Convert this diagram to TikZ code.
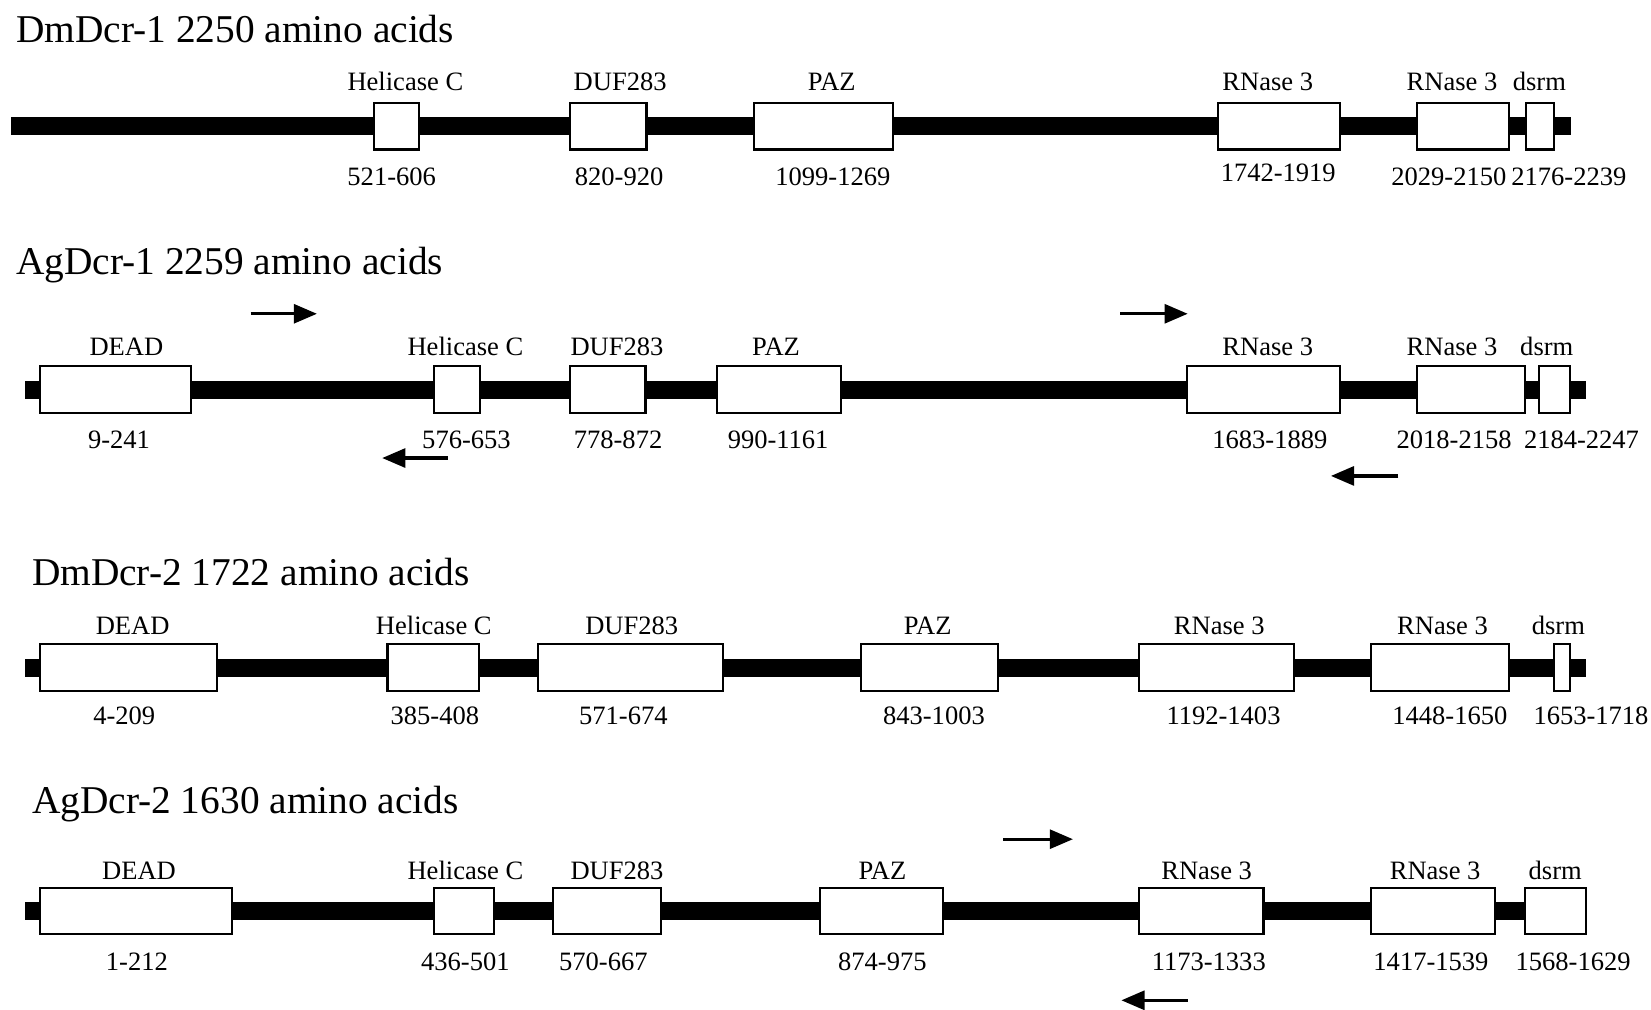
\documentclass[tikz,border=0pt]{standalone}
\usepackage{fontspec}
\setmainfont{Liberation Serif}
\usetikzlibrary{arrows.meta}
\tikzset{
  dombox/.style={draw=black, line width=1pt, fill=white, rectangle, inner sep=0pt, minimum height=22pt},
  lab/.style={inner sep=0pt, font=\fontsize{12.6}{15}\selectfont},
  ttl/.style={inner sep=0pt, anchor=base west, font=\fontsize{18.7}{22}\selectfont},
  barfill/.style={fill=black},
  arr/.style={line width=1.5pt, -{Triangle[length=11pt,width=9pt]}}
}
\newcommand\dom[7]{%
  \node[dombox, minimum width={(#3-#2)*0.5pt}] (#1) at ({(#2+#3)/2},\yc) {};
  \node[lab, anchor=base] (#1-l) at (#5,\yl) {#4};
  \node[lab, anchor=base] (#1-n) at (#7,\yn) {#6};
}
\begin{document}
\begin{tikzpicture}[x=0.5pt,y=-0.5pt]
\useasboundingbox (0,0) rectangle (1568,959);

% ---------- Row 1: DmDcr-1 ----------
\node[ttl] (t1) at (15,40) {DmDcr-1 2250 amino acids};
\def\yc{120}\def\yl{86}\def\yn{176}
\fill[barfill] (10,111.5) rectangle (1492,128.5);
\dom{a1}{355}{398}{Helicase C}{385}{521-606}{372}
\dom{a2}{541}{614}{DUF283}{589}{820-920}{588}
\dom{a3}{716}{848}{PAZ}{790}{1099-1269}{791}
\def\yn{172}
\dom{a4}{1157}{1273}{RNase 3}{1204}{1742-1919}{1214}
\def\yn{176}
\dom{a5}{1346}{1433}{RNase 3}{1379}{2029-2150}{1376}
\dom{a6}{1449}{1476}{dsrm}{1462}{2176-2239}{1490}

% ---------- Row 2: AgDcr-1 ----------
\node[ttl] (t2) at (15,261) {AgDcr-1 2259 amino acids};
\def\yc{370}\def\yl{338}\def\yn{426}
\fill[barfill] (24,361.5) rectangle (1506,378.5);
\dom{b0}{38}{181}{DEAD}{120}{9-241}{113}
\dom{b1}{412}{456}{Helicase C}{442}{576-653}{443}
\dom{b2}{541}{613}{DUF283}{586}{778-872}{587}
\dom{b3}{681}{799}{PAZ}{737}{990-1161}{739}
\dom{b4}{1127}{1273}{RNase 3}{1204}{1683-1889}{1206}
\dom{b5}{1346}{1448}{RNase 3}{1379}{2018-2158}{1381}
\dom{b6}{1462}{1491}{dsrm}{1469}{2184-2247}{1502}
\coordinate (p1s) at (238,298); \coordinate (p1e) at (301,298);
\coordinate (p2s) at (1064,298); \coordinate (p2e) at (1128,298);
\coordinate (p3s) at (425,435); \coordinate (p3e) at (363,435);
\coordinate (p4s) at (1328,452); \coordinate (p4e) at (1264,452);
\draw[arr] (p1s) -- (p1e);
\draw[arr] (p2s) -- (p2e);
\draw[arr] (p3s) -- (p3e);
\draw[arr] (p4s) -- (p4e);

% ---------- Row 3: DmDcr-2 ----------
\node[ttl] (t3) at (30,556) {DmDcr-2 1722 amino acids};
\def\yc{634}\def\yl{603}\def\yn{688}
\fill[barfill] (24,625.5) rectangle (1506,642.5);
\dom{c0}{38}{206}{DEAD}{126}{4-209}{118}
\dom{c1}{368}{455}{Helicase C}{412}{385-408}{413}
\dom{c2}{511}{687}{DUF283}{600}{571-674}{592}
\dom{c3}{818}{948}{PAZ}{881}{843-1003}{887}
\dom{c4}{1082}{1229}{RNase 3}{1158}{1192-1403}{1162}
\dom{c5}{1302}{1433}{RNase 3}{1370}{1448-1650}{1377}
\dom{c6}{1476}{1491}{dsrm}{1480}{1653-1718}{1511}

% ---------- Row 4: AgDcr-2 ----------
\node[ttl] (t4) at (30,773) {AgDcr-2 1630 amino acids};
\def\yc{865}\def\yl{835}\def\yn{922}
\fill[barfill] (24,856.5) rectangle (1506,873.5);
\dom{d0}{38}{220}{DEAD}{132}{1-212}{130}
\dom{d1}{412}{469}{Helicase C}{442}{436-501}{442}
\dom{d2}{525}{628}{DUF283}{586}{570-667}{573}
\dom{d3}{779}{896}{PAZ}{838}{874-975}{838}
\dom{d4}{1082}{1200}{RNase 3}{1146}{1173-1333}{1148}
\dom{d5}{1302}{1420}{RNase 3}{1363}{1417-1539}{1359}
\dom{d6}{1448}{1506}{dsrm}{1477}{1568-1629}{1494}
\coordinate (q1s) at (953,797); \coordinate (q1e) at (1019,797);
\coordinate (q2s) at (1128,950); \coordinate (q2e) at (1065,950);
\draw[arr] (q1s) -- (q1e);
\draw[arr] (q2s) -- (q2e);
\end{tikzpicture}
\end{document}
